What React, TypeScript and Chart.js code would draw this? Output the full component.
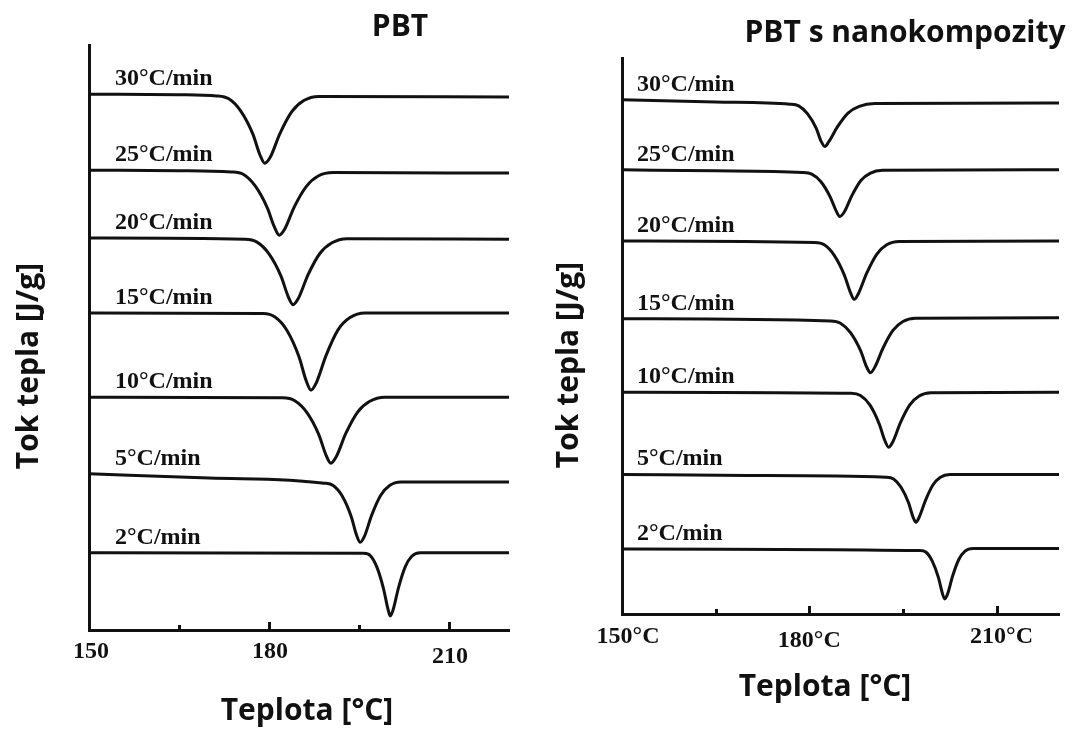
import React, { useEffect, useRef } from 'react';
import { Chart, registerables } from 'chart.js';

Chart.register(...registerables);

// ---------- data ----------
const RATES = ['30°C/min', '25°C/min', '20°C/min', '15°C/min', '10°C/min', '5°C/min', '2°C/min'];

const X_TICKS = [150, 165, 180, 195, 210];
const MAJOR_TICKS = [150, 180, 210];
const PBT_TICK_LABELS = ['150', '180', '210'];
const NANO_TICK_LABELS = ['150°C', '180°C', '210°C'];

const PANEL_TITLES = ['PBT', 'PBT s nanokompozity'];
const X_TITLE = 'Teplota [°C]';
const Y_TITLE = 'Tok tepla [J/g]';

// PBT: [temperature °C, heat flow (arb. units, curves offset)]
const PBT_30 = [[150, 91.6], [165, 91.5], [171.3, 91.3], [173.3, 90.8], [175.3, 88.7], [177.3, 84.8], [178.5, 81.2], [179.3, 79.8], [180.2, 80.8], [181.8, 84.8], [183.8, 88.6], [185.8, 90.5], [188.3, 91.2], [220, 91.1]];
const PBT_25 = [[150, 78.6], [165, 78.5], [173.7, 78.3], [175.7, 77.9], [177.7, 75.9], [179.7, 72.2], [180.9, 68.9], [181.7, 67.5], [182.6, 68.5], [184.2, 72.3], [186.2, 75.8], [188.2, 77.6], [190.7, 78.2], [220, 78.1]];
const PBT_20 = [[150, 67.0], [176, 66.8], [178, 66.3], [180, 64.3], [182, 60.5], [183.2, 57.0], [184, 55.6], [184.9, 56.7], [186.5, 60.7], [188.5, 64.4], [190.5, 66.2], [193, 66.9], [220, 66.8]];
const PBT_15 = [[150, 54.2], [179, 54.1], [181, 53.5], [183, 51.2], [185, 46.7], [186.2, 42.6], [187, 41.0], [187.9, 42.3], [189.5, 46.9], [191.5, 51.3], [193.5, 53.4], [196, 54.2], [220, 54.2]];
const PBT_10 = [[150, 39.8], [182.3, 39.7], [184.3, 39.2], [186.3, 37.2], [188.3, 33.4], [189.5, 29.9], [190.3, 28.5], [191.2, 29.6], [192.8, 33.6], [194.8, 37.3], [196.8, 39.1], [199.3, 39.8], [220, 39.8]];
const PBT_5 = [[150, 26.7], [170, 26.0], [189.2, 25.1], [190.7, 24.7], [192.2, 22.9], [193.7, 19.4], [194.6, 16.2], [195.2, 15.0], [195.9, 16.0], [197.1, 19.6], [198.6, 23.0], [200.1, 24.7], [202, 25.3], [220, 25.3]];
const PBT_2 = [[150, 13.2], [195.8, 13.1], [196.9, 12.7], [198.0, 10.7], [199.1, 7.0], [199.8, 3.7], [200.2, 2.4], [200.7, 3.5], [201.6, 7.3], [202.7, 10.8], [203.8, 12.6], [205.2, 13.2], [220, 13.2]];

// PBT s nanokompozity
const NANO_30 = [[150, 92.5], [165, 92.1], [176.9, 91.7], [178.3, 91.4], [179.7, 90.0], [181.1, 87.4], [181.9, 85.0], [182.5, 84.1], [183.1, 84.9], [184.5, 87.6], [186.2, 90.1], [188.0, 91.3], [190.5, 91.8], [220, 91.9]];
const NANO_25 = [[150, 79.9], [165, 79.7], [178.9, 79.4], [180.4, 79.1], [181.9, 77.7], [183.4, 74.9], [184.3, 72.5], [184.9, 71.5], [185.6, 72.3], [186.8, 75.2], [188.3, 78.0], [189.8, 79.3], [191.7, 79.8], [220, 79.9]];
const NANO_20 = [[150, 67.1], [180.8, 66.8], [182.4, 66.4], [184.0, 64.5], [185.6, 61.0], [186.6, 57.8], [187.2, 56.6], [187.9, 57.7], [189.2, 61.3], [190.8, 64.7], [192.4, 66.4], [194.4, 67.0], [220, 67.1]];
const NANO_15 = [[150, 53.1], [183.4, 52.7], [185.0, 52.3], [186.6, 50.6], [188.2, 47.4], [189.2, 44.4], [189.8, 43.4], [190.5, 44.4], [191.8, 47.8], [193.4, 51.0], [195.0, 52.6], [197.0, 53.2], [220, 53.3]];
const NANO_10 = [[150, 39.9], [186.7, 39.7], [188.2, 39.3], [189.7, 37.6], [191.2, 34.2], [192.1, 31.2], [192.7, 30.0], [193.4, 31.0], [194.6, 34.4], [196.1, 37.6], [197.6, 39.2], [199.5, 39.8], [220, 39.9]];
const NANO_5 = [[150, 25.1], [170, 24.9], [192.3, 24.6], [193.5, 24.3], [194.7, 22.8], [195.9, 20.0], [196.6, 17.5], [197.1, 16.5], [197.6, 17.4], [198.6, 20.4], [199.8, 23.2], [201.0, 24.6], [202.5, 25.1], [220, 25.1]];
const NANO_2 = [[150, 11.7], [197.7, 11.4], [198.7, 11.1], [199.7, 9.5], [200.7, 6.5], [201.3, 3.8], [201.7, 2.7], [202.15, 3.6], [202.95, 6.8], [203.95, 9.8], [204.95, 11.3], [206.2, 11.8], [220, 11.8]];

const PBT_CURVES = [PBT_30, PBT_25, PBT_20, PBT_15, PBT_10, PBT_5, PBT_2];
const NANO_CURVES = [NANO_30, NANO_25, NANO_20, NANO_15, NANO_10, NANO_5, NANO_2];

// ---------- styling ----------
const INK = '#111111';
const SANS = '"Open Sans", "DejaVu Sans", sans-serif';
const SERIF = '"Liberation Serif", "DejaVu Serif", serif';
const H = 729;

type Spec = {
  curves: number[][][];
  tickLabels: string[];
  title: string;
  width: number;
  padding: { left: number; right: number; top: number; bottom: number };
  labelDx: number;
  titleX: number; titleY: number;
  xTitleX: number; xTitleY: number;
  yTitleX: number; yTitleY: number;
  tickBase: number;
  tickDx: number[];
  tickDy: number[];
};

function decor(spec: Spec) {
  return {
    id: 'decor',
    afterDraw(chart: any) {
      const { ctx, chartArea, scales } = chart;
      const xs = scales.x;
      const ys = scales.y;
      ctx.save();
      // inward tick marks
      ctx.strokeStyle = INK;
      ctx.lineWidth = 3;
      ctx.beginPath();
      X_TICKS.forEach((v) => {
        const px = Math.round(xs.getPixelForValue(v)) + 0.5;
        const len = MAJOR_TICKS.includes(v) ? 8 : 5;
        ctx.moveTo(px, chartArea.bottom);
        ctx.lineTo(px, chartArea.bottom - len);
      });
      ctx.stroke();
      // tick labels
      ctx.fillStyle = INK;
      ctx.font = `bold 24px ${SERIF}`;
      ctx.textAlign = 'center';
      ctx.textBaseline = 'alphabetic';
      MAJOR_TICKS.forEach((v, k) => {
        ctx.fillText(spec.tickLabels[k], xs.getPixelForValue(v) + spec.tickDx[k], chartArea.bottom + spec.tickBase + spec.tickDy[k]);
      });
      // curve labels
      ctx.textAlign = 'left';
      chart.data.datasets.forEach((ds: any, i: number) => {
        const p0 = ds.data[0];
        ctx.fillText(RATES[i], xs.getPixelForValue(p0.x) + spec.labelDx, ys.getPixelForValue(p0.y) - 9);
      });
      // titles
      ctx.font = `bold 30px ${SANS}`;
      ctx.textAlign = 'center';
      ctx.fillText(spec.title, spec.titleX, spec.titleY);
      ctx.fillText(X_TITLE, spec.xTitleX, spec.xTitleY);
      ctx.translate(spec.yTitleX, spec.yTitleY);
      ctx.rotate(-Math.PI / 2);
      ctx.fillText(Y_TITLE, 0, 0);
      ctx.restore();
    },
  };
}

function buildConfig(spec: Spec): any {
  return {
    type: 'line',
    data: {
      datasets: spec.curves.map((pts, i) => ({
        label: RATES[i],
        data: pts.map(([x, y]) => ({ x, y })),
        borderColor: INK,
        borderWidth: 3,
        pointRadius: 0,
        fill: false,
        cubicInterpolationMode: 'monotone',
      })),
    },
    options: {
      responsive: false,
      animation: false,
      devicePixelRatio: 1,
      layout: { padding: spec.padding },
      plugins: { legend: { display: false }, tooltip: { enabled: false }, title: { display: false } },
      scales: {
        x: {
          type: 'linear',
          min: 150,
          max: 220,
          afterBuildTicks: (s: any) => { s.ticks = X_TICKS.map((v) => ({ value: v })); },
          afterFit: (s: any) => { s.height = 0; },
          grid: { display: false, drawTicks: false },
          border: { display: true, color: INK, width: 3 },
          ticks: { display: false },
        },
        y: {
          min: 0,
          max: 100,
          afterFit: (s: any) => { s.width = 0; },
          grid: { display: false, drawTicks: false },
          border: { display: true, color: INK, width: 3 },
          ticks: { display: false },
        },
      },
    },
    plugins: [decor(spec)],
  };
}

const LEFT_SPEC: Spec = {
  curves: PBT_CURVES,
  tickLabels: PBT_TICK_LABELS,
  title: PANEL_TITLES[0],
  width: 540,
  padding: { left: 89, right: 31, top: 45, bottom: 99 },
  labelDx: 26,
  titleX: 400, titleY: 36,
  xTitleX: 307, xTitleY: 720,
  yTitleX: 38, yTitleY: 366,
  tickBase: 28,
  tickDx: [2, 1, 1],
  tickDy: [0, 0, 5],
};

const RIGHT_SPEC: Spec = {
  curves: NANO_CURVES,
  tickLabels: NANO_TICK_LABELS,
  title: PANEL_TITLES[1],
  width: 533,
  padding: { left: 82, right: 14, top: 58, bottom: 115 },
  labelDx: 15,
  titleX: 365, titleY: 42,
  xTitleX: 285, xTitleY: 696,
  yTitleX: 38, yTitleY: 365,
  tickBase: 29,
  tickDx: [6, 0, 5],
  tickDy: [0, 4, 0],
};

function Panel({ spec, left }: { spec: Spec; left: number }) {
  const ref = useRef<HTMLCanvasElement>(null);
  useEffect(() => {
    const chart = new Chart(ref.current as HTMLCanvasElement, buildConfig(spec));
    return () => chart.destroy();
  }, []);
  return (
    <canvas
      ref={ref}
      width={spec.width}
      height={H}
      style={{ position: 'absolute', left, top: 0, width: spec.width, height: H, display: 'block' }}
    />
  );
}

export default function App() {
  return (
    <div style={{ position: 'fixed', left: 0, top: 0, width: 1073, height: H, background: '#ffffff', overflow: 'hidden' }}>
      <Panel spec={LEFT_SPEC} left={0} />
      <Panel spec={RIGHT_SPEC} left={540} />
    </div>
  );
}
